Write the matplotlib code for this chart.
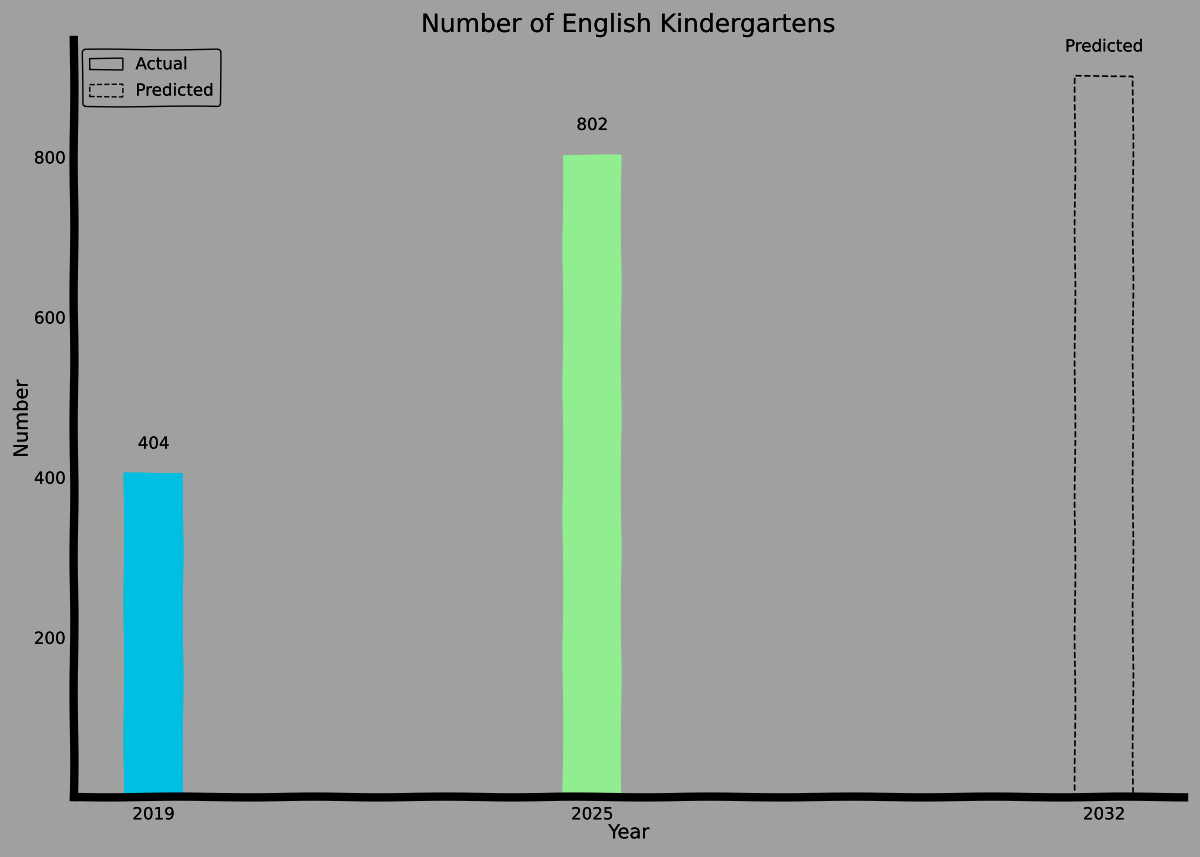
import matplotlib
matplotlib.use('Agg')
import matplotlib.pyplot as plt
import matplotlib.patheffects as pe
from matplotlib.patches import Patch

# data
years = [2019, 2025]
counts = [404, 802]
bar_colors = ['#00bfe3', '#90ee90']
pred_year = 2032
pred_count = 900
ytick_vals = [200, 400, 600, 800]

bg = '#a0a0a0'

with plt.xkcd(scale=0.4, length=150, randomness=2):
    plt.rcParams['path.effects'] = [pe.withStroke(linewidth=0.01, foreground=bg)]
    plt.rcParams['font.family'] = ['DejaVu Sans']

    fig, ax = plt.subplots(figsize=(12, 8.57), dpi=100)
    fig.patch.set_facecolor(bg)
    ax.set_facecolor(bg)

    bars = ax.bar(years, counts, width=0.8, color=bar_colors)
    pbar = ax.bar([pred_year], [pred_count], width=0.8, fill=False,
                  edgecolor='black', linestyle='--', linewidth=1.2)

    for x, h in zip(years, counts):
        ax.annotate(str(h), (x, h), xytext=(0, 15), textcoords='offset points',
                    ha='center', va='bottom', fontsize=12)
    ax.annotate('Predicted', (pred_year, pred_count), xytext=(0, 15),
                textcoords='offset points', ha='center', va='bottom', fontsize=12)

    ax.set_xticks(years + [pred_year])
    ax.set_xticklabels([str(y) for y in years + [pred_year]], fontsize=12)
    ax.set_yticks(ytick_vals)
    ax.set_yticklabels([str(v) for v in ytick_vals], fontsize=12)
    ax.tick_params(length=0, pad=6)

    ax.spines['top'].set_visible(False)
    ax.spines['right'].set_visible(False)
    ax.spines['left'].set_linewidth(6)
    ax.spines['bottom'].set_linewidth(6)

    ax.set_title('Number of English Kindergartens', fontsize=18, pad=6)
    ax.set_xlabel('Year', fontsize=14, labelpad=0)
    ax.set_ylabel('Number', fontsize=14)
    ax.yaxis.set_label_coords(-0.038, 0.5)

    handles = [Patch(facecolor='none', edgecolor='black', label='Actual'),
               Patch(facecolor='none', edgecolor='black', linestyle='--', label='Predicted')]
    leg = ax.legend(handles=handles, loc='upper left', fontsize=12,
                    facecolor=bg, edgecolor='black', framealpha=1)

    fig.subplots_adjust(left=0.0615, right=0.9865, bottom=0.07, top=0.953)
    fig.savefig('out.png', dpi=100, facecolor=bg)
